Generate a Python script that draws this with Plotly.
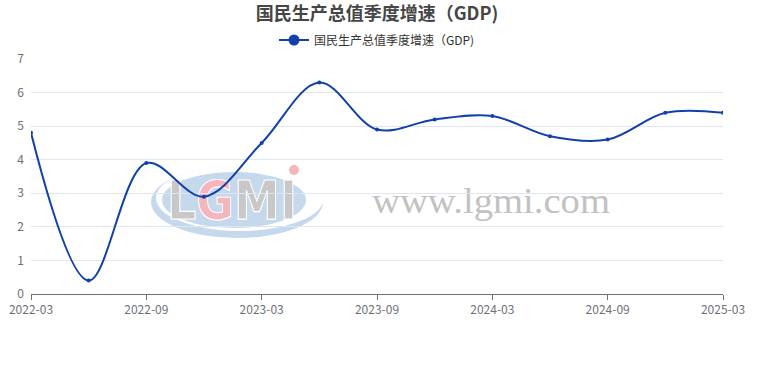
import base64
import plotly.graph_objects as go

quarters = ["2022-03", "2022-06", "2022-09", "2022-12", "2023-03", "2023-06", "2023-09",
            "2023-12", "2024-03", "2024-06", "2024-09", "2024-12", "2025-03"]
gdp_growth = [4.8, 0.4, 3.9, 2.9, 4.5, 6.3, 4.9, 5.2, 5.3, 4.7, 4.6, 5.4, 5.4]
tick_labels = ["2022-03", "2022-09", "2023-03", "2023-09", "2024-03", "2024-09", "2025-03"]
y_ticks = [0, 1, 2, 3, 4, 5, 6, 7]
series_name = "国民生产总值季度增速（GDP)"
title_text = "国民生产总值季度增速（GDP)"

FONT = "Noto Sans CJK SC, Microsoft YaHei, sans-serif"
L, R, T, B = 31, 37, 59, 76
W, H = 760, 370
PW, PH = W - L - R, H - T - B

# watermark as an svg image placed under the plot
def wx(x):
    return x - L

def wy(y):
    return y - T

svg = f"""<svg xmlns='http://www.w3.org/2000/svg' width='{PW}' height='{PH}' viewBox='0 0 {PW} {PH}'>
<defs><mask id='m'><rect x='0' y='0' width='{PW}' height='{PH}' fill='white'/>
<ellipse cx='{wx(240)}' cy='{wy(198)}' rx='84' ry='33' fill='black'/></mask></defs>
<ellipse cx='{wx(237)}' cy='{wy(202)}' rx='86' ry='36' fill='#c6d8ec' mask='url(#m)'/>
<ellipse cx='{wx(234)}' cy='{wy(200)}' rx='72' ry='28' fill='#c6d8ec'/>
<text x='{wx(167)}' y='{wy(219)}' font-family='DejaVu Sans, sans-serif' font-weight='bold' font-size='54'
 textLength='130' lengthAdjust='spacingAndGlyphs' fill='#c8c8c8' stroke='#ffffff' stroke-width='1.2'>L<tspan fill='#f5b5bc'>G</tspan>MI</text>
<circle cx='{wx(294)}' cy='{wy(170)}' r='5' fill='#f5b5bc'/>
<text x='{wx(372)}' y='{wy(213)}' font-family='Liberation Serif, Times New Roman, serif' font-size='36'
 textLength='238' lengthAdjust='spacingAndGlyphs' fill='#c2c2c2'>www.lgmi.com</text>
</svg>"""
wm_src = "data:image/svg+xml;base64," + base64.b64encode(svg.encode("utf-8")).decode("ascii")

fig = go.Figure()
fig.add_trace(go.Scatter(
    x=quarters, y=gdp_growth, name=series_name, mode="lines+markers", showlegend=False,
    line=dict(color="#1240ab", width=2, shape="spline", smoothing=1.0),
    marker=dict(size=4, color="#1240ab"),
))
# legend entry with larger marker
fig.add_trace(go.Scatter(
    x=[None], y=[None], name=series_name, mode="lines+markers", showlegend=True,
    line=dict(color="#1240ab", width=2),
    marker=dict(size=11, color="#1240ab"),
))

fig.add_layout_image(dict(source=wm_src, xref="paper", yref="paper", x=0, y=1,
                          sizex=1, sizey=1, sizing="stretch", xanchor="left",
                          yanchor="top", layer="below", opacity=1))

fig.update_layout(
    width=W, height=H,
    margin=dict(l=L, r=R, t=T, b=B, autoexpand=False),
    paper_bgcolor="white", plot_bgcolor="white",
    font=dict(family=FONT, size=12, color="#6e7079"),
    title=dict(text=title_text, x=0.5, xref="paper", xanchor="center",
               y=1 - 14 / H, yref="container", yanchor="middle",
               font=dict(family=FONT, size=18, color="#464646", weight="bold")),
    showlegend=True,
    legend=dict(orientation="h", x=0.5, xanchor="center", y=1 - 40 / H, yref="container",
                yanchor="middle", font=dict(size=12, color="#333333"),
                bgcolor="rgba(0,0,0,0)"),
    xaxis=dict(type="category", range=[0, len(quarters) - 1], automargin=False,
               tickmode="array", tickvals=tick_labels, ticktext=tick_labels,
               showgrid=False, showline=True, linecolor="#6e7079", linewidth=1,
               ticks="outside", ticklen=5, tickcolor="#6e7079",
               tickfont=dict(size=12, color="#6e7079"), zeroline=False),
    yaxis=dict(range=[0, 7], tickvals=y_ticks, showgrid=True, gridcolor="#e0e6f1",
               gridwidth=1, zeroline=False, showline=False, ticks="", automargin=False,
               tickfont=dict(size=12, color="#6e7079"), ticklabelstandoff=6),
)

fig.write_html("out.html", config={"displayModeBar": False},
               post_script="document.body.style.margin='0px';")
